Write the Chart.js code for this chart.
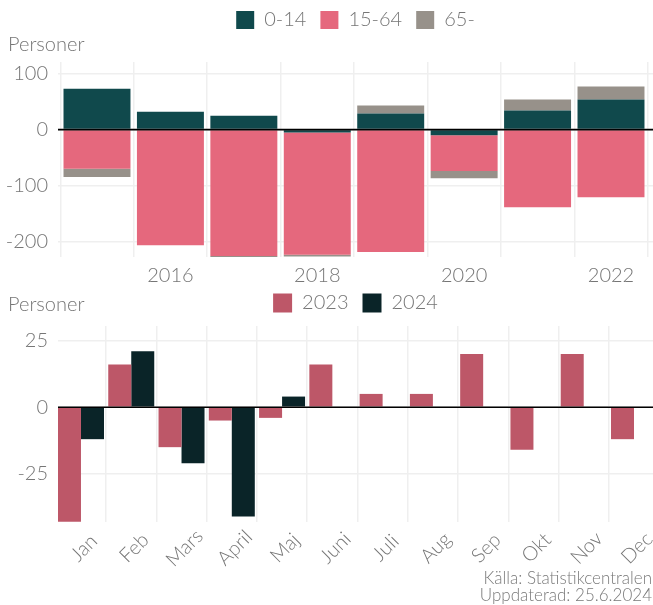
<!DOCTYPE html>
<html><head><meta charset="utf-8">
<script src="https://cdn.jsdelivr.net/npm/chart.js@4/dist/chart.umd.min.js"></script>
<style>
html,body{margin:0;padding:0;background:#fff;overflow:hidden}
body{width:653px;height:605px;position:relative;font-family:Lato, sans-serif;font-weight:300}
#wrapA{position:absolute;left:0;top:-4px;width:653px;height:294px}
#wrapB{position:absolute;left:0;top:279px;width:653px;height:326px}
.ylab{position:absolute;left:8px;font-size:20px;color:#767676;line-height:20px}
#src{position:absolute;right:1px;top:569px;font-size:17px;line-height:17px;color:#7a7a7a;text-align:right}
</style></head><body>
<div id="wrapA"><canvas id="c1"></canvas></div>
<div id="wrapB"><canvas id="c2"></canvas></div>
<div class="ylab" style="top:33px">Personer</div>
<div class="ylab" style="top:293px">Personer</div>
<div id="src">Källa: Statistikcentralen<br>Uppdaterad: 25.6.2024</div>
<script>
// ---- Data: top chart (yearly change by age group) ----
const years = [2015, 2016, 2017, 2018, 2019, 2020, 2021, 2022];
const age0_14  = [73, 32, 25, -5, 29, -10, 34, 54];
const age15_64 = [-70, -207, -226, -219, -219, -64, -139, -121];
const age65    = [-15, 0, -2, -3, 14, -13, 20, 23];
const ageLabels = ['0-14', '15-64', '65-'];
const topTicks = [-200, -100, 0, 100];

// ---- Data: bottom chart (monthly change) ----
const months = ['Jan','Feb','Mars','April','Maj','Juni','Juli','Aug','Sep','Okt','Nov','Dec'];
const monthNums = [1,2,3,4,5,6,7,8,9,10,11,12];
const y2023 = [-43, 16, -15, -5, -4, 16, 5, 5, 20, -16, 20, -12];
const y2024 = [-12, 21, -21, -41, 4, null, null, null, null, null, null, null];
const seriesYears = ['2023', '2024'];

const TXT = '#767676';
const GRID = '#efefef';
const FONT = 'Lato';
Chart.defaults.font.family = FONT;
Chart.defaults.font.weight = 300;
Chart.defaults.color = TXT;

const fixLegend = {
  id: 'fixLegend',
  beforeLayout(chart, args, opts) {
    const lg = chart.legend;
    if (lg && !lg._fixed) {
      const f = lg.fit;
      lg.fit = function () { f.call(this); this.height = opts.height; };
      lg._fixed = true;
    }
  }
};
const zeroLine = {
  id: 'zeroLine',
  afterDatasetsDraw(chart) {
    const {ctx, chartArea: a, scales: {y}} = chart;
    const p = y.getPixelForValue(0);
    ctx.save();
    ctx.strokeStyle = '#000';
    ctx.lineWidth = 1.6;
    ctx.beginPath(); ctx.moveTo(a.left, p); ctx.lineTo(a.right, p); ctx.stroke();
    ctx.restore();
  }
};
const monthLabels = {
  id: 'monthLabels',
  afterDraw(chart) {
    const x = chart.scales.x, ctx = chart.ctx;
    ctx.save();
    ctx.font = '300 20px ' + FONT;
    ctx.fillStyle = TXT;
    ctx.textAlign = 'center';
    ctx.textBaseline = 'middle';
    x.ticks.forEach(t => {
      const lab = months[Math.round(t.value) - 1];
      if (!lab) return;
      ctx.save();
      ctx.translate(x.getPixelForValue(t.value) + 3, chart.chartArea.bottom + 26);
      ctx.rotate(-Math.PI / 4);
      ctx.fillText(lab, 0, 0);
      ctx.restore();
    });
    ctx.restore();
  }
};

const pts = (xs, vs) => xs.map((x, i) => ({x, y: vs[i]})).filter(p => p.y !== null);

new Chart(document.getElementById('c1'), {
  type: 'bar',
  data: {
    datasets: [
      {label: ageLabels[0], data: pts(years, age0_14), backgroundColor: '#10494c'},
      {label: ageLabels[1], data: pts(years, age15_64), backgroundColor: '#e5687d'},
      {label: ageLabels[2], data: pts(years, age65), backgroundColor: '#97918a'}
    ]
  },
  options: {
    responsive: true, maintainAspectRatio: false, animation: false, devicePixelRatio: 1,
    layout: {padding: 0},
    datasets: {bar: {categoryPercentage: 1, barPercentage: 0.912, borderWidth: 0}},
    plugins: {
      legend: {position: 'top', fullSize: false,
        labels: {boxWidth: 18, boxHeight: 18, padding: 14, color: TXT, font: {size: 20, weight: 300}}},
      tooltip: {enabled: false},
      fixLegend: {height: 66}
    },
    scales: {
      x: {type: 'linear', stacked: true, offset: false, min: 2014.469, max: 2022.572,
        grid: {color: GRID, lineWidth: 1.5, drawTicks: false}, border: {display: false},
        ticks: {stepSize: 1, includeBounds: false, autoSkip: false, maxRotation: 0, padding: 7,
          color: TXT, font: {size: 20, weight: 300},
          callback: v => (v % 2 === 0 ? String(v) : '')},
        afterFit: s => { s.height = 33; }
      },
      y: {stacked: true, min: -228, max: 121,
        grid: {color: GRID, lineWidth: 1.5, drawTicks: false}, border: {display: false},
        ticks: {stepSize: 100, includeBounds: false, padding: 10, color: TXT, font: {size: 20, weight: 300},
          callback: v => (topTicks.includes(v) ? String(v) : '')},
        afterFit: s => { s.width = 58; }
      }
    }
  },
  plugins: [fixLegend, zeroLine]
});

new Chart(document.getElementById('c2'), {
  type: 'bar',
  data: {
    datasets: [
      {label: seriesYears[0], data: pts(monthNums, y2023), backgroundColor: '#bd5768'},
      {label: seriesYears[1], data: pts(monthNums, y2024), backgroundColor: '#0a2428'}
    ]
  },
  options: {
    responsive: true, maintainAspectRatio: false, animation: false, devicePixelRatio: 1,
    layout: {padding: 0},
    datasets: {bar: {categoryPercentage: 0.915, barPercentage: 1, borderWidth: 0}},
    plugins: {
      legend: {position: 'top', fullSize: false,
        labels: {boxWidth: 19, boxHeight: 19, padding: 14, color: TXT, font: {size: 20, weight: 300}}},
      tooltip: {enabled: false},
      fixLegend: {height: 47}
    },
    scales: {
      x: {type: 'linear', offset: false, min: 0.543, max: 12.378,
        grid: {color: GRID, lineWidth: 1.5, drawTicks: false}, border: {display: false},
        ticks: {display: false, stepSize: 1, includeBounds: false, autoSkip: false,
          callback: v => months[v - 1] || ''},
        afterFit: s => { s.height = 83; }
      },
      y: {min: -43.1, max: 30.5,
        grid: {color: GRID, lineWidth: 1.5, drawTicks: false}, border: {display: false},
        ticks: {stepSize: 25, includeBounds: false, padding: 10, color: TXT, font: {size: 20, weight: 300}},
        afterFit: s => { s.width = 58; }
      }
    }
  },
  plugins: [fixLegend, zeroLine, monthLabels]
});
</script>
</body></html>
